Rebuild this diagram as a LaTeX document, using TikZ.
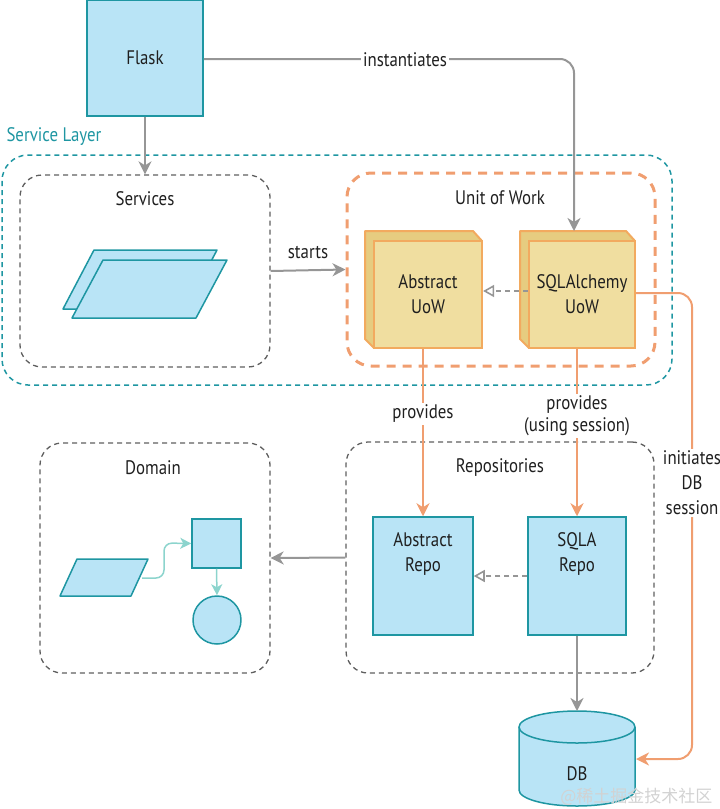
\documentclass[tikz,border=0pt]{standalone}
\usepackage{fontspec}
\setmainfont{PT Sans}[FakeStretch=0.86]
\newfontfamily\cjk{Noto Sans CJK SC}
\usetikzlibrary{arrows.meta}
\definecolor{bfill}{RGB}{185,228,246}
\definecolor{bline}{RGB}{30,150,162}
\definecolor{garrow}{RGB}{150,150,150}
\definecolor{gdash}{RGB}{95,95,95}
\definecolor{orng}{RGB}{240,158,112}
\definecolor{ufill}{RGB}{240,222,160}
\definecolor{uline}{RGB}{242,170,95}
\definecolor{uside}{RGB}{230,204,128}
\definecolor{lteal}{RGB}{140,212,205}
\definecolor{wmark}{RGB}{210,210,210}
\tikzset{
  every node/.style={font=\fontsize{19.6}{25}\selectfont, text=black!88},
  bluebox/.style={draw=bline, fill=bfill, line width=1.5pt, inner sep=0pt},
  grpbox/.style={draw=gdash, dash pattern=on 5pt off 4pt, line width=1.3pt, rounded corners=22pt, inner sep=0pt},
  uowbox/.style={draw=uline, fill=ufill, line width=2.2pt, inner sep=0pt, align=center},
  uowside/.style={draw=uline, fill=uside, line width=2pt, line join=round},
  garr/.style={draw=garrow, line width=2pt, -{Stealth[length=13pt,width=13pt,inset=4pt]}},
  oarr/.style={draw=orng, line width=2pt, -{Stealth[length=13pt,width=13pt,inset=4pt]}},
  inh/.style={draw=garrow, line width=1.6pt, dash pattern=on 5pt off 4pt, -{Triangle[open,length=11pt,width=12pt]}},
  tarr/.style={draw=lteal, line width=1.5pt, -{Stealth[length=11pt,width=11pt,inset=3pt]}},
  lbl/.style={fill=white, inner sep=2pt, align=center},
  shp/.style={draw=bline, fill=bfill, line width=1.5pt, line join=round}
}
\begin{document}
\begin{tikzpicture}[x=1pt,y=-1pt]
\useasboundingbox (0,0) rectangle (720,809);
% Service layer
\node[text=bline, anchor=west] (sltitle) at (3,137) {Service Layer};
\draw[draw=bline, dash pattern=on 5pt off 4pt, line width=1.5pt, rounded corners=26pt] (2,155) rectangle (672,385);
% Flask
\node[bluebox, minimum width=116pt, minimum height=116pt] (flask) at (145,58) {Flask};
% Services group
\node[grpbox, minimum width=250pt, minimum height=192pt] (services) at (145,271) {};
\node (servt) at (145,199) {Services};
\draw[shp] (63,309) -- (94,250) -- (217,250) -- (186,309) -- cycle;
\draw[shp] (72,318) -- (103,260) -- (227,260) -- (196,318) -- cycle;
% Unit of Work group
\node[draw=orng, dash pattern=on 9pt off 7pt, line width=3pt, rounded corners=24pt, minimum width=308pt, minimum height=193pt, inner sep=0pt] (uow) at (501,269.5) {};
\node (uowt) at (500,198) {Unit of Work};
% Abstract UoW cube
\draw[uowside] (365,231) -- (473,231) -- (482,241) -- (374,241) -- (374,348) -- (365,339) -- cycle;
\node[uowbox, minimum width=108pt, minimum height=107pt] (auow) at (428,294.5) {Abstract\\UoW};
% SQLAlchemy UoW cube
\draw[uowside] (520,231) -- (626,231) -- (635,241) -- (529,241) -- (529,348) -- (520,339) -- cycle;
\node[uowbox, minimum width=106pt, minimum height=107pt] (suow) at (582,294.5) {SQLAlchemy\\UoW};
\coordinate (suowtop) at (574,231);
% Repositories group
\node[grpbox, minimum width=308pt, minimum height=231pt] (repos) at (500,557.5) {};
\node (repost) at (500,468) {Repositories};
\node[bluebox, minimum width=100pt, minimum height=118pt] (arepo) at (423,576) {};
\node[align=center, anchor=north] (arepot) at ([yshift=-13pt]arepo.north) {Abstract\\Repo};
\node[bluebox, minimum width=98pt, minimum height=118pt] (srepo) at (577,576) {};
\node[align=center, anchor=north] (srepot) at ([yshift=-13pt]srepo.north) {SQLA\\Repo};
% Domain group
\node[grpbox, minimum width=230pt, minimum height=230pt] (domain) at (155,558) {};
\node (domt) at (153,468) {Domain};
\draw[shp] (60,596) -- (77,559) -- (148,559) -- (131,596) -- cycle;
\coordinate (dparr) at (142,578);
\node[bluebox, minimum width=49pt, minimum height=49pt] (dsq) at (216.5,543.5) {};
\node[shp, circle, minimum size=48pt, inner sep=0pt] (dcirc) at (217,620) {};
% DB
\draw[shp] (519,727) -- (519,790) arc[start angle=180, end angle=360, x radius=58, y radius=-16] -- (635,727);
\draw[shp] (577,727) ellipse[x radius=58, y radius=16];
\node (db) at (577,774) {DB};
\coordinate (dbtop) at (577,711);
\coordinate (dbright) at (636,759);
% Connectors
\draw[garr, rounded corners=14pt] (flask.east |- 0,59) -- (suowtop |- 0,59) -- (suowtop);
\node[lbl] (inst) at (405,60) {instantiates};
\draw[garr] (flask.south) -- (services.north);
\draw[garr] (services.east) -- (uow.west);
\node[lbl, fill=none] (startl) at (308,253) {starts};
\draw[inh] (suow.west |- 0,291) -- (auow.east |- 0,291);
\draw[oarr] (arepo.north |- auow.south) -- (arepo.north);
\node[lbl] (prov1) at (423,414) {provides};
\draw[oarr] (srepo.north |- suow.south) -- (srepo.north);
\node[lbl, font=\fontsize{19.6}{22}\selectfont] (prov2) at (577,416) {provides\\(using session)};
\draw[oarr, rounded corners=14pt] (suow.east |- 0,293) -- (692,293) -- (692,759) -- (dbright);
\node[lbl, font=\fontsize{19.6}{25}\selectfont] (initl) at (692,483) {initiates\\DB\\session};
\draw[inh] (srepo.west) -- (arepo.east);
\draw[garr] (repos.west) -- (domain.east);
\draw[garr] (srepo.south) -- (dbtop);
\draw[tarr, rounded corners=8pt] (dparr) -- (164,578) -- (164,543) -- (dsq.west);
\draw[tarr] (dsq.south) -- (dcirc.north);
% watermark
\node[text=wmark, anchor=east, font=\cjk\fontsize{17}{20}\selectfont] (wm) at (716,797) {@稀土掘金技术社区};
\end{tikzpicture}
\end{document}
